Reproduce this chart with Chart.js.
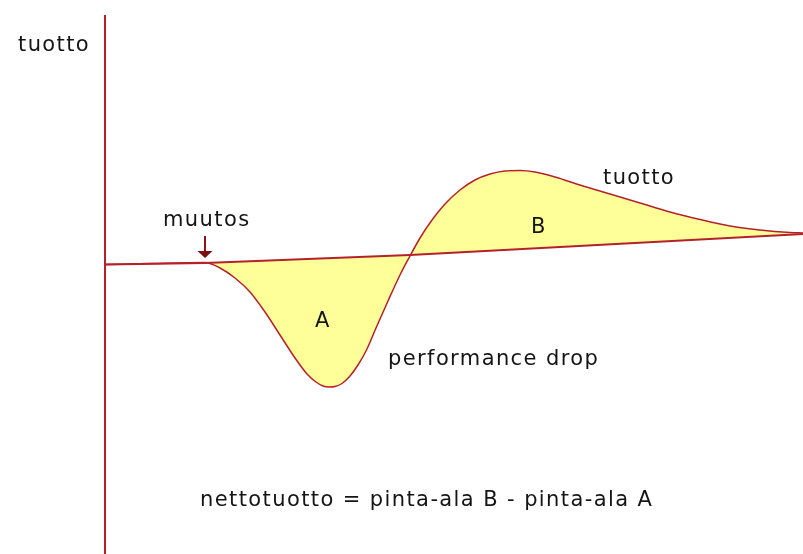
<!DOCTYPE html>
<html>
<head>
<meta charset="utf-8">
<script src="https://cdn.jsdelivr.net/npm/chart.js@4/dist/chart.umd.min.js"></script>
<style>
  html, body { margin:0; padding:0; background:#fff; }
  #wrap { width:803px; height:554px; position:relative; }
</style>
</head>
<body>
<div id="wrap"><canvas id="c"></canvas></div>
<script>
/* ---------- data (x = time, y = tuotto) ---------- */
const curveX = [0,45,100,115,130,145,160,175,190,202,211,218,224,230,237,245,253,262,271,283,295,305,315,327,340,355,370,385,400,415,430,450,475,505,535,565,595,625,655,685,698];
const curveY = [0.5,1.5,2.5,-3,-13,-27,-47,-70,-93,-109,-117,-121,-122,-121.5,-118.5,-111,-100,-84,-63,-36,-10,9,27,45,61,75,85,91,94,94.5,93,88,80,71,62,53,45.5,39,35,32.5,32];

const baseX = [0,100,305,455,698];
const baseY = [0.5,2,10,18,31];

const axisX = [0,0];
const axisY = [250,-289];

const changeX = 100;            // "muutos" point

/* ---------- labels (text, x, y in data units) ---------- */
const labels = [
  { text:'tuotto',            x:-87, y:214 },
  { text:'muutos',            x:58,  y:39 },
  { text:'tuotto',            x:498, y:81 },
  { text:'B',                 x:426, y:32 },
  { text:'A',                 x:210, y:-62 },
  { text:'performance drop',  x:283, y:-100 },
  { text:'nettotuotto = pinta-ala B - pinta-ala A', x:95, y:-241 }
];

const RED  = '#b5212a';
const FILL = '#ffff99';

const toPts = (xs, ys) => xs.map((x,i)=>({ x, y: ys[i] }));

/* ---------- texts + arrow plugin ---------- */
const annot = {
  id:'annot',
  afterDatasetsDraw(chart){
    const { ctx, scales:{ x, y } } = chart;
    ctx.save();

    // arrow to the change point
    const ax = x.getPixelForValue(changeX);
    ctx.strokeStyle = '#8b1515';
    ctx.lineWidth = 2;
    ctx.beginPath();
    ctx.moveTo(ax, y.getPixelForValue(29));
    ctx.lineTo(ax, y.getPixelForValue(12));
    ctx.stroke();
    ctx.fillStyle = '#7a1010';
    ctx.beginPath();
    ctx.moveTo(ax-7.5, y.getPixelForValue(14));
    ctx.lineTo(ax+7.5, y.getPixelForValue(14));
    ctx.lineTo(ax, y.getPixelForValue(7));
    ctx.closePath();
    ctx.fill();

    // texts
    ctx.fillStyle = '#151515';
    ctx.font = '21px "DejaVu Sans"';
    ctx.letterSpacing = '1.4px';
    ctx.textBaseline = 'alphabetic';
    ctx.textAlign = 'left';
    labels.forEach(l => ctx.fillText(l.text, x.getPixelForValue(l.x), y.getPixelForValue(l.y)));
    ctx.restore();
  }
};

new Chart(document.getElementById('c'), {
  type:'line',
  data:{
    datasets:[
      { label:'baseline', data: toPts(baseX, baseY),
        borderColor:RED, borderWidth:2, pointRadius:0, fill:false },
      { label:'tuotto', data: toPts(curveX, curveY),
        borderColor:RED, borderWidth:1.5, pointRadius:0,
        cubicInterpolationMode:'monotone',
        fill:{ target:0 }, backgroundColor:FILL },
      { label:'axis', data: toPts(axisX, axisY),
        borderColor:RED, borderWidth:2, pointRadius:0, fill:false }
    ]
  },
  options:{
    responsive:true, maintainAspectRatio:false, animation:false,
    layout:{ padding:{ left:100, right:0, top:0, bottom:0 } },
    plugins:{ legend:{ display:false }, tooltip:{ enabled:false } },
    scales:{
      x:{ type:'linear', min:-5, max:698, display:false },
      y:{ type:'linear', min:-289, max:265, display:false }
    }
  },
  plugins:[annot]
});
</script>
</body>
</html>
